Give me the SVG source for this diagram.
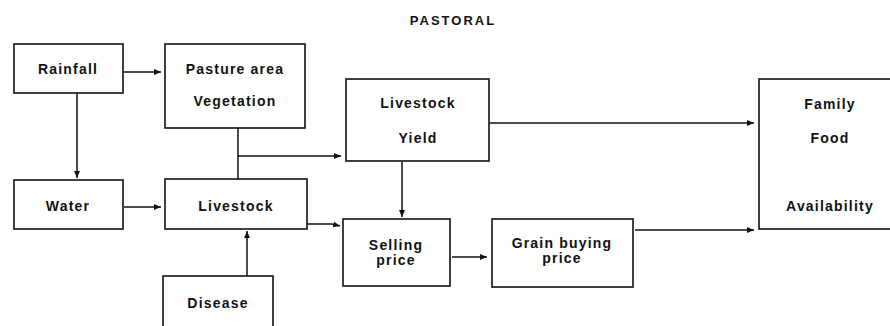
<svg xmlns="http://www.w3.org/2000/svg" width="890" height="326" viewBox="0 0 890 326">
<style>
.box{fill:#fff;stroke:#111;stroke-width:1.6}
.t{font-family:"Liberation Sans",Arial,sans-serif;font-weight:bold;font-size:14px;letter-spacing:1.2px;fill:#111;text-anchor:middle}
.c{fill:none;stroke:#111;stroke-width:1.5}
</style>
<defs>
<marker id="ah" markerWidth="8" markerHeight="8" refX="7" refY="4" orient="auto" markerUnits="userSpaceOnUse">
<path d="M0,1 L7,4 L0,7 Z" fill="#111"/>
</marker>
</defs>
<text class="t" x="453" y="25" style="font-size:13px;letter-spacing:2px">PASTORAL</text>
<g id="connectors">
<line class="c" x1="124" y1="72" x2="161" y2="72" marker-end="url(#ah)"/>
<line class="c" x1="77" y1="93" x2="77" y2="178" marker-end="url(#ah)"/>
<line class="c" x1="124" y1="207" x2="161" y2="207" marker-end="url(#ah)"/>
<polyline class="c" points="238,128 238,179"/>
<line class="c" x1="238" y1="156" x2="341" y2="156" marker-end="url(#ah)"/>
<line class="c" x1="247" y1="276" x2="247" y2="231" marker-end="url(#ah)"/>
<polyline class="c" points="307,224 332,224 340,226" marker-end="url(#ah)"/>
<line class="c" x1="402" y1="162" x2="402" y2="217" marker-end="url(#ah)"/>
<line class="c" x1="452" y1="257" x2="487" y2="257" marker-end="url(#ah)"/>
<line class="c" x1="490" y1="123" x2="754" y2="123" marker-end="url(#ah)"/>
<line class="c" x1="635" y1="230" x2="754" y2="230" marker-end="url(#ah)"/>
</g>
<g id="rainfall"><rect class="box" x="14" y="44" width="109" height="49"/><text class="t" x="68" y="74">Rainfall</text></g>
<g id="pasture"><rect class="box" x="165" y="44" width="140" height="84"/><text class="t" x="235" y="74">Pasture area</text><text class="t" x="235" y="106">Vegetation</text></g>
<g id="water"><rect class="box" x="14" y="180" width="109" height="49"/><text class="t" x="68" y="211">Water</text></g>
<g id="livestock"><rect class="box" x="165" y="179" width="142" height="50"/><text class="t" x="236" y="211">Livestock</text></g>
<g id="disease"><rect class="box" x="163" y="276" width="110" height="52"/><text class="t" x="218" y="308">Disease</text></g>
<g id="yield"><rect class="box" x="346" y="79" width="143" height="82"/><text class="t" x="418" y="108">Livestock</text><text class="t" x="418" y="143">Yield</text></g>
<g id="selling"><rect class="box" x="343" y="219" width="107" height="67"/><text class="t" x="396" y="250">Selling</text><text class="t" x="396" y="265">price</text></g>
<g id="grain"><rect class="box" x="492" y="219" width="141" height="68"/><text class="t" x="562" y="248">Grain buying</text><text class="t" x="562" y="263">price</text></g>
<g id="family"><rect class="box" x="759" y="79" width="140" height="150"/><text class="t" x="830" y="109">Family</text><text class="t" x="830" y="143">Food</text><text class="t" x="830" y="211">Availability</text></g>
</svg>
